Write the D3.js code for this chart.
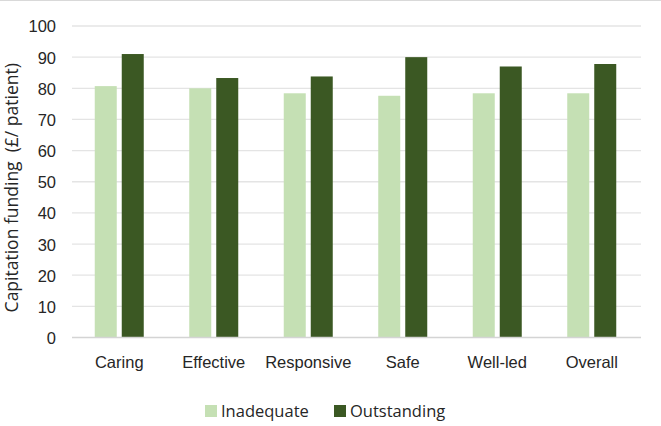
<!DOCTYPE html>
<html lang="en">
<head>
  <meta charset="UTF-8">
  <title>Capitation funding</title>
  <style>
    body { margin: 0; background: #fff; }
    svg { display: block; font-family: "Open Sans", "Noto Sans", sans-serif; }
    .grid line { stroke: #e4e4e4; stroke-width: 1.3; }
    .tick text { fill: #262626; font-size: 16.5px; }
  </style>
</head>
<body>
  <svg id="chart" width="661" height="426"></svg>
  <script src="https://cdn.jsdelivr.net/npm/d3@7/dist/d3.min.js"></script>
  <script>
    const categories = ['Caring', 'Effective', 'Responsive', 'Safe', 'Well-led', 'Overall']
    const seriesNames = ['Inadequate', 'Outstanding']
    const inadequate = [80.7, 80, 78.4, 77.6, 78.4, 78.4]
    const outstanding = [91, 83.3, 83.8, 90, 87, 87.8]
    const yTicks = [0, 10, 20, 30, 40, 50, 60, 70, 80, 90, 100]
    const colors = ['#c5e0b4', '#3b5823']

    const svg = d3.select('#chart')
    const plotLeft = 72, plotRight = 639, plotTop = 26, plotBottom = 337.5

    const x = d3.scaleBand().domain(categories).range([plotLeft, plotRight])
    const y = d3.scaleLinear().domain([0, 100]).range([plotBottom, plotTop])
    const barW = 22, pairGap = 5

    // top border
    svg.append('line').attr('x1', 0).attr('x2', 661).attr('y1', 0.5).attr('y2', 0.5)
      .attr('stroke', '#d9d9d9')

    // gridlines
    svg.append('g').attr('class', 'grid')
      .selectAll('line').data(yTicks.slice(1)).enter().append('line')
      .attr('x1', plotLeft).attr('x2', plotRight + 2)
      .attr('y1', d => y(d)).attr('y2', d => y(d))

    // y axis labels
    const yAxis = svg.append('g')
      .attr('transform', `translate(${plotLeft - 16},0)`)
      .call(d3.axisLeft(y).tickValues(yTicks).tickSize(0).tickPadding(0))
    yAxis.select('.domain').remove()
    yAxis.selectAll('text').attr('dy', '0.36em')

    const rows = categories.map((c, i) => ({ c, vals: [inadequate[i], outstanding[i]] }))

    const groups = svg.append('g').selectAll('g').data(rows).enter().append('g')
      .attr('transform', d => `translate(${x(d.c) + x.bandwidth() / 2},0)`)

    groups.selectAll('rect').data(d => d.vals).enter().append('rect')
      .attr('x', (d, j) => j === 0 ? -barW - pairGap / 2 : pairGap / 2)
      .attr('width', barW)
      .attr('y', d => y(d))
      .attr('height', d => y(0) - y(d))
      .attr('fill', (d, j) => colors[j])

    // baseline
    svg.append('line').attr('x1', plotLeft).attr('x2', plotRight + 2)
      .attr('y1', y(0)).attr('y2', y(0))
      .attr('stroke', '#d4d4d4').attr('stroke-width', 1.3)

    // x axis labels
    const xAxis = svg.append('g')
      .attr('transform', `translate(0,${y(0)})`)
      .call(d3.axisBottom(x).tickSize(0).tickPadding(19))
    xAxis.select('.domain').remove()

    // y title
    svg.append('text')
      .attr('transform', `translate(18,${(plotTop + plotBottom) / 2 + 6}) rotate(-90)`)
      .attr('text-anchor', 'middle')
      .attr('font-size', 17.5)
      .attr('fill', '#262626')
      .text('Capitation funding\u00a0 (£/ patient)')

    // legend
    const legend = svg.append('g').attr('transform', 'translate(205,411)')
    const lx = [0, 129]
    seriesNames.forEach((name, i) => {
      legend.append('rect').attr('x', lx[i]).attr('y', -6).attr('width', 12).attr('height', 12)
        .attr('fill', colors[i])
      legend.append('text').attr('x', lx[i] + 16).attr('y', 0).attr('dy', '0.36em')
        .attr('font-size', 16.5).attr('fill', '#262626').text(name)
    })
  </script>
</body>
</html>
